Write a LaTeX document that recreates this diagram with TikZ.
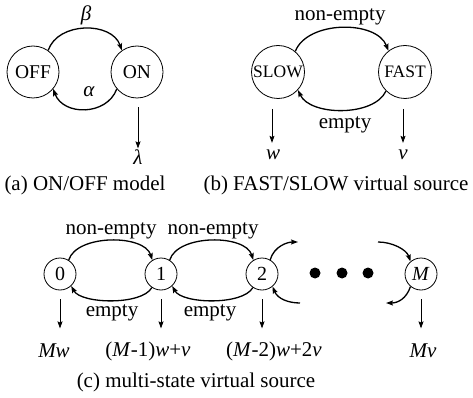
\documentclass[tikz,border=0pt]{standalone}
\usepackage{fontspec}
\setmainfont{Liberation Serif}
\usetikzlibrary{arrows.meta,calc}
\begin{document}
\begin{tikzpicture}[x=1pt,y=-1pt,
  tip/.tip={Stealth[length=7pt,width=5pt,inset=1.2pt]},
  stA/.style={circle,draw,line width=0.8pt,minimum size=52pt,inner sep=0pt,font=\fontsize{19.5}{20}\selectfont},
  stB/.style={circle,draw,line width=0.8pt,minimum size=53pt,inner sep=0pt,font=\fontsize{17.5}{18}\selectfont},
  stC/.style={circle,draw,line width=0.8pt,minimum size=32pt,inner sep=0pt,font=\fontsize{20}{20}\selectfont},
  lab/.style={inner sep=1pt,font=\fontsize{21}{24}\selectfont},
  arcline/.style={line width=1.3pt,-tip},
  outflow/.style={line width=0.8pt,-tip},
  bigdot/.style={circle,fill,inner sep=0pt,minimum size=11pt},
]
\useasboundingbox (0,0) rectangle (473,398);

% ---- (a) ON/OFF model ----
\node[stA] (off) at (33,72) {OFF};
\node[stA] (on) at (137,72) {ON};
\draw[arcline] (off.55) .. controls +(10,-29) and +(-10,-29) .. (on.125);
\draw[arcline] (on.220) .. controls +(-10,27) and +(10,27) .. (off.-40);
\node[lab] (beta) at (86,15) {\textit{β}};
\node[lab] (alpha) at (89,92) {\textit{α}};
\node[lab] (lam) at (138,157) {\textit{λ}};
\draw[outflow] ($(on.south)+(1,9)$) -- (lam.north);
\node[lab] (capa) at (85,185) {(a) ON/OFF model};

% ---- (b) FAST/SLOW virtual source ----
\node[stB] (slow) at (278,72) {SLOW};
\node[stB] (fast) at (405,72) {FAST};
\draw[arcline] (slow.50) .. controls +(12,-31) and +(-12,-31) .. (fast.128);
\draw[arcline] (fast.225) .. controls +(-12,26) and +(12,26) .. (slow.-42);
\node[lab] (ne0) at (340,17) {non-empty};
\node[lab] (em0) at (345,125) {empty};
\node[lab] (wout) at (273,155) {\textit{w}};
\node[lab] (vout) at (403,155) {\textit{v}};
\draw[outflow] ($(wout.north)+(-1,-40)$) -- ($(wout.north)+(-1,-6)$);
\draw[outflow] ($(vout.north)+(0,-40)$) -- ($(vout.north)+(0,-6)$);
\node[lab] (capb) at (336,185) {(b) FAST/SLOW virtual source};

% ---- (c) multi-state virtual source ----
\node[stC] (n0) at (60,274) {0};
\node[stC] (n1) at (161,274) {1};
\node[stC] (n2) at (262,274) {2};
\node[stC] (nM) at (421,274) {\textit{M}};
\node[bigdot] (d1) at (315,273) {};
\node[bigdot] (d2) at (342,273) {};
\node[bigdot] (d3) at (368,273) {};

\draw[arcline] (n0.58) .. controls +(8,-26) and +(-8,-26) .. (n1.122);
\draw[arcline] (n1.58) .. controls +(8,-26) and +(-8,-26) .. (n2.122);
\draw[arcline] (n1.236) .. controls +(-10,18) and +(10,18) .. (n0.-47);
\draw[arcline] (n2.236) .. controls +(-10,18) and +(10,18) .. (n1.-47);

\coordinate (out2) at (298,242);
\coordinate (in2) at (300,303);
\coordinate (inM) at (378,242);
\coordinate (outM) at (386,303);
\draw[arcline] (n2.60) .. controls +(4,-14) and +(-10,0) .. (out2);
\draw[arcline] (in2) .. controls +(-12,0) and +(5,12) .. (n2.-50);
\draw[arcline] (inM) .. controls +(14,0) and +(-4,-12) .. (nM.130);
\draw[arcline] (nM.230) .. controls +(-4,12) and +(12,0) .. (outM);

\node[lab] (ne1) at (111,231) {non-empty};
\node[lab] (ne2) at (213,231) {non-empty};
\node[lab] (em1) at (112,313) {empty};
\node[lab] (em2) at (210,313) {empty};

\node[lab] (r0) at (54,351) {\textit{Mw}};
\node[lab] (r1) at (148,351) {(\textit{M}-1)\textit{w}+\textit{v}};
\node[lab] (r2) at (274,351) {(\textit{M}-2)\textit{w}+2\textit{v}};
\node[lab] (rM) at (423,351) {\textit{Mv}};
\draw[outflow] ($(n0.south)+(0,9)$) -- ($(n0.south)+(0,38)$);
\draw[outflow] ($(n1.south)+(0,9)$) -- ($(n1.south)+(0,38)$);
\draw[outflow] ($(n2.south)+(0,9)$) -- ($(n2.south)+(0,38)$);
\draw[outflow] ($(nM.south)+(0,9)$) -- ($(nM.south)+(0,38)$);

\node[lab] (capc) at (196,382) {(c) multi-state virtual source};
\end{tikzpicture}
\end{document}
